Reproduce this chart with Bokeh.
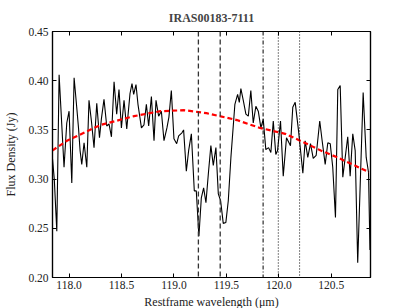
from bokeh.plotting import figure
from bokeh.models import Span, FixedTicker, LinearAxis, Range1d, PrintfTickFormatter, CustomJSTickFormatter
from bokeh.embed import file_html
from bokeh.resources import INLINE

title_text = "IRAS00183-7111"
x_label = "Restframe wavelength (\u03bcm)"
y_label = "Flux Density (Jy)"

wavelength = [117.835, 117.859, 117.883, 117.905, 117.952, 117.978, 118.000, 118.026, 118.048, 118.073,
              118.090, 118.105, 118.121, 118.143, 118.169, 118.190, 118.213, 118.238, 118.264, 118.290,
              118.309, 118.333, 118.359, 118.381, 118.404, 118.429, 118.454, 118.476, 118.499, 118.524,
              118.550, 118.581, 118.600, 118.616, 118.638, 118.657, 118.690, 118.714, 118.737, 118.759,
              118.785, 118.810, 118.829, 118.854, 118.880, 118.905, 118.933, 118.952, 118.975, 119.000,
              119.026, 119.045, 119.076, 119.092, 119.118, 119.140, 119.166, 119.194, 119.213, 119.238,
              119.261, 119.283, 119.305, 119.330, 119.352, 119.375, 119.400, 119.423, 119.445, 119.470,
              119.495, 119.518, 119.543, 119.581, 119.607, 119.623, 119.638, 119.661, 119.686, 119.709,
              119.733, 119.756, 119.781, 119.804, 119.829, 119.851, 119.876, 119.902, 119.924, 119.947,
              119.971, 119.988, 120.016, 120.042, 120.073, 120.111, 120.133, 120.156, 120.188, 120.229,
              120.251, 120.276, 120.302, 120.328, 120.356, 120.390, 120.413, 120.442, 120.467, 120.490,
              120.514, 120.540, 120.562, 120.585, 120.610, 120.657, 120.680, 120.705, 120.728, 120.752,
              120.804, 120.833, 120.855, 120.869]
flux = [0.329, 0.300, 0.247, 0.406, 0.312, 0.357, 0.369, 0.296, 0.403, 0.373,
        0.352, 0.329, 0.315, 0.337, 0.312, 0.380, 0.359, 0.332, 0.377, 0.342,
        0.362, 0.381, 0.354, 0.356, 0.343, 0.399, 0.366, 0.391, 0.352, 0.380,
        0.351, 0.387, 0.397, 0.386, 0.396, 0.376, 0.352, 0.355, 0.376, 0.354,
        0.384, 0.339, 0.380, 0.364, 0.369, 0.339, 0.352, 0.363, 0.390, 0.341,
        0.336, 0.344, 0.347, 0.350, 0.308, 0.329, 0.346, 0.288, 0.288, 0.242,
        0.281, 0.291, 0.276, 0.308, 0.334, 0.314, 0.332, 0.285, 0.278, 0.255,
        0.256, 0.278, 0.322, 0.376, 0.386, 0.378, 0.392, 0.380, 0.366, 0.364,
        0.390, 0.357, 0.374, 0.369, 0.352, 0.361, 0.330, 0.332, 0.327, 0.359,
        0.325, 0.329, 0.359, 0.303, 0.342, 0.334, 0.373, 0.378, 0.349, 0.306,
        0.339, 0.322, 0.336, 0.321, 0.324, 0.359, 0.339, 0.315, 0.337, 0.336,
        0.312, 0.261, 0.391, 0.395, 0.302, 0.343, 0.303, 0.346, 0.329, 0.215,
        0.388, 0.322, 0.307, 0.228]

cont_wavelength = [117.84, 117.98, 118.30, 118.62, 118.87, 119.10, 119.31, 119.60, 119.82, 120.06,
                   120.245, 120.40, 120.56, 120.70, 120.86]
cont_flux = [0.329, 0.339, 0.355, 0.364, 0.369, 0.370, 0.367, 0.360, 0.352, 0.346,
             0.337, 0.329, 0.322, 0.315, 0.307]

oh_lines = [119.233, 119.441]
dashdot_lines = [119.85]
dotted_lines = [119.995, 120.198]

x_ticks = [118.0, 118.5, 119.0, 119.5, 120.0, 120.5]
y_ticks = [0.20, 0.25, 0.30, 0.35, 0.40, 0.45]
x_range = (117.842, 120.874)
y_range = (0.20, 0.45)

FONT = "Liberation Serif"

p = figure(width=409, height=306, output_backend="svg", toolbar_location=None,
           x_range=Range1d(*x_range), y_range=Range1d(*y_range),
           frame_width=318, frame_height=246,
           min_border_left=52, min_border_right=39, min_border_top=31, min_border_bottom=20,
           x_axis_label=x_label, y_axis_label=y_label)
p.title.text = title_text
p.title.align = "center"
p.title.text_font = FONT
p.title.text_font_size = "12px"
p.title.text_font_style = "bold"
p.title.offset = 0
p.title.standoff = 14

p.grid.visible = False
p.outline_line_color = "black"
p.outline_line_width = 1.2
p.background_fill_color = "white"
p.border_fill_color = "white"

for ax in p.xaxis:
    ax.ticker = FixedTicker(ticks=x_ticks)
    ax.formatter = PrintfTickFormatter(format="%.1f")
for ax in p.yaxis:
    ax.ticker = FixedTicker(ticks=y_ticks)
    ax.formatter = PrintfTickFormatter(format="%.2f")

for ax in list(p.xaxis) + list(p.yaxis):
    ax.major_tick_in = 4
    ax.major_tick_out = 0
    ax.minor_tick_line_color = None
    ax.axis_line_width = 1.2
    ax.major_tick_line_width = 1
    ax.major_label_text_font = FONT
    ax.major_label_text_font_size = "11.5px"
    ax.major_label_text_color = "#222222"
    ax.axis_label_text_font = FONT
    ax.axis_label_text_font_size = "12px"
    ax.axis_label_text_font_style = "normal"
    ax.axis_label_text_color = "#222222"

p.xaxis.major_label_standoff = 3
p.yaxis.major_label_standoff = 4
p.xaxis.axis_label_standoff = 3
p.yaxis.axis_label_standoff = 7

blank = CustomJSTickFormatter(code="return '';")
top = LinearAxis(ticker=FixedTicker(ticks=x_ticks), formatter=blank,
                 major_label_text_font_size="1px",
                 major_tick_in=4, major_tick_out=0, minor_tick_line_color=None,
                 axis_line_width=1.2, major_label_standoff=0, axis_label_standoff=0)
right = LinearAxis(ticker=FixedTicker(ticks=y_ticks), formatter=blank,
                   major_label_text_font_size="1px",
                   major_tick_in=4, major_tick_out=0, minor_tick_line_color=None,
                   axis_line_width=1.2, major_label_standoff=0, axis_label_standoff=0)
p.add_layout(top, "above")
p.add_layout(right, "right")

p.line(wavelength, flux, line_color="black", line_width=1.1)
p.line(cont_wavelength, cont_flux, line_color="red", line_width=2.2, line_dash="5 3")

for w in oh_lines:
    p.add_layout(Span(location=w, dimension="height", line_color="#333333",
                      line_width=1.3, line_dash="5 3"))
for w in dashdot_lines:
    p.add_layout(Span(location=w, dimension="height", line_color="black",
                      line_width=1.0, line_dash="4 2 1 2"))
for w in dotted_lines:
    p.add_layout(Span(location=w, dimension="height", line_color="black",
                      line_width=1.0, line_dash="1 2"))

open("out.html", "w").write(file_html(p, INLINE))
